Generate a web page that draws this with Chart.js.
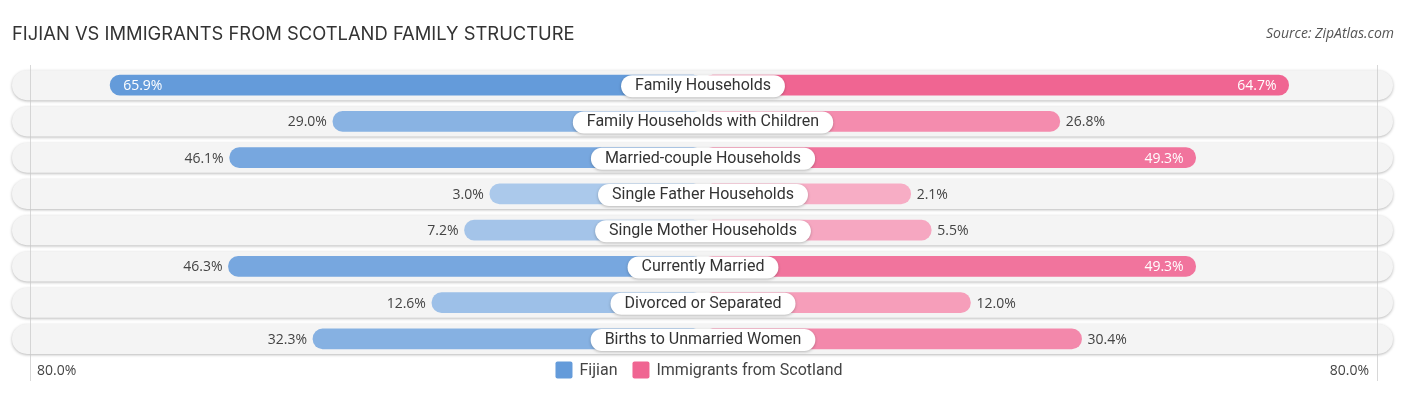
<!DOCTYPE html>
<html>
<head>
<meta charset="utf-8">
<script src="https://cdn.jsdelivr.net/npm/chart.js@4"></script>
<style>
html,body{margin:0;padding:0;background:#fff;}
#wrap{width:1406px;height:395px;}
</style>
</head>
<body>
<div id="wrap"><canvas id="c" width="1406" height="395"></canvas></div>
<script>
const titleText = 'FIJIAN VS IMMIGRANTS FROM SCOTLAND FAMILY STRUCTURE';
const sourceText = 'Source: ZipAtlas.com';
const categories = ['Family Households','Family Households with Children','Married-couple Households','Single Father Households','Single Mother Households','Currently Married','Divorced or Separated','Births to Unmarried Women'];
const fijian = [65.9, 29.0, 46.1, 3.0, 7.2, 46.3, 12.6, 32.3];
const scotland = [64.7, 26.8, 49.3, 2.1, 5.5, 49.3, 12.0, 30.4];
const seriesNames = ['Fijian','Immigrants from Scotland'];
const axisMax = 80;
const axisTickLabels = ['80.0%','80.0%'];

const OFF = 32.3; // hidden stub under the centre label (in value units)
const BLUE = [100,155,218];
const PINK = [240,101,146];
function shade(base, v, max){
  const t = 0.5 + 0.5*Math.pow(v/max, 0.8);
  const c = base.map(b => Math.round(255*(1-t) + b*t));
  return `rgb(${c[0]},${c[1]},${c[2]})`;
}
const fMax = Math.max(...fijian), sMax = Math.max(...scotland);
const fColors = fijian.map(v => shade(BLUE, v, fMax));
const sColors = scotland.map(v => shade(PINK, v, sMax));
const fmt = v => v.toFixed(1) + '%';

function rr(ctx,x,y,w,h,r){
  ctx.beginPath();
  ctx.moveTo(x+r,y);
  ctx.lineTo(x+w-r,y);
  ctx.arc(x+w-r,y+r,r,-Math.PI/2,0);
  ctx.lineTo(x+w,y+h-r);
  ctx.arc(x+w-r,y+h-r,r,0,Math.PI/2);
  ctx.lineTo(x+r,y+h);
  ctx.arc(x+r,y+h-r,r,Math.PI/2,Math.PI);
  ctx.lineTo(x,y+r);
  ctx.arc(x+r,y+r,r,Math.PI,Math.PI*1.5);
  ctx.closePath();
}

const decor = {
  id:'decor',
  beforeDatasetsDraw(chart){
    const ctx = chart.ctx, ca = chart.chartArea, ys = chart.scales.y;
    ctx.save();
    categories.forEach((c,i)=>{
      const yc = ys.getPixelForValue(i);
      const x0 = ca.left - 13, x1 = ca.right + 12, h = 30;
      ctx.save();
      ctx.shadowColor = 'rgba(0,0,0,0.28)';
      ctx.shadowBlur = 3;
      ctx.shadowOffsetY = 1;
      rr(ctx, x0, yc - h/2, x1 - x0, h, h/2);
      ctx.fillStyle = '#f4f4f4';
      ctx.fill();
      ctx.restore();
    });
    // faint boundary lines near +-80%
    ctx.strokeStyle = 'rgba(200,200,200,0.7)';
    ctx.lineWidth = 1;
    [ca.left + 5, ca.right - 4].forEach(x=>{
      ctx.beginPath();
      ctx.moveTo(Math.round(x)+0.5, ca.top - 2);
      ctx.lineTo(Math.round(x)+0.5, 381);
      ctx.stroke();
    });
    ctx.restore();
  },
  afterDatasetsDraw(chart){
    const ctx = chart.ctx, ys = chart.scales.y, xs = chart.scales.x;
    const cx = xs.getPixelForValue(0);
    ctx.save();
    // value labels
    ctx.font = '14px "Open Sans"';
    ctx.textBaseline = 'middle';
    [[0,fijian],[1,scotland]].forEach(([di,vals])=>{
      const meta = chart.getDatasetMeta(di);
      meta.data.forEach((bar,i)=>{
        const v = vals[i];
        const inside = v >= 48;
        const y = bar.y + 1;
        if (di === 0){
          if (inside){ ctx.fillStyle = '#fff'; ctx.textAlign = 'left'; ctx.fillText(fmt(v), bar.x + 13, y); }
          else { ctx.fillStyle = '#444'; ctx.textAlign = 'right'; ctx.fillText(fmt(v), bar.x - 6, y); }
        } else {
          if (inside){ ctx.fillStyle = '#fff'; ctx.textAlign = 'right'; ctx.fillText(fmt(v), bar.x - 12, y); }
          else { ctx.fillStyle = '#444'; ctx.textAlign = 'left'; ctx.fillText(fmt(v), bar.x + 6, y); }
        }
      });
    });
    // centre labels
    ctx.font = '16px Roboto';
    categories.forEach((c,i)=>{
      const yc = ys.getPixelForValue(i) + 1;
      const w = ctx.measureText(c).width + 28, h = 22;
      ctx.save();
      ctx.shadowColor = 'rgba(0,0,0,0.25)';
      ctx.shadowBlur = 3;
      ctx.shadowOffsetY = 1;
      rr(ctx, cx - w/2, yc - h/2, w, h, h/2);
      ctx.fillStyle = '#fff';
      ctx.fill();
      ctx.restore();
      ctx.fillStyle = '#333';
      ctx.textAlign = 'center';
      ctx.textBaseline = 'middle';
      ctx.fillText(c, cx, yc);
    });
    ctx.restore();
  },
  afterDraw(chart){
    const ctx = chart.ctx, ca = chart.chartArea;
    ctx.save();
    // title
    ctx.fillStyle = '#333';
    ctx.textBaseline = 'middle';
    ctx.textAlign = 'left';
    let fs = 18;
    ctx.font = fs + 'px Inter';
    const tw = ctx.measureText(titleText).width;
    fs = fs * 563 / tw;
    ctx.font = fs.toFixed(2) + 'px Inter';
    ctx.fillText(titleText, 12, 34);
    // source
    ctx.font = 'italic 14px "Open Sans"';
    ctx.fillStyle = '#555';
    ctx.textAlign = 'right';
    ctx.fillText(sourceText, 1394, 34);
    // axis end labels
    ctx.font = '14px "Open Sans"';
    ctx.fillStyle = '#444';
    ctx.textAlign = 'left';
    ctx.fillText(axisTickLabels[0], ca.left + 12, 371);
    ctx.textAlign = 'right';
    ctx.fillText(axisTickLabels[1], ca.right - 12, 371);
    // legend
    ctx.font = '16px Roboto';
    const items = [[seriesNames[0], shade(BLUE,1,1)],[seriesNames[1], shade(PINK,1,1)]];
    const box = 17, gap1 = 7, gap2 = 15;
    let total = 0;
    items.forEach(([t],k)=>{ total += box + gap1 + ctx.measureText(t).width + (k<items.length-1?gap2:0); });
    let x = (ca.left + ca.right)/2 - 4 - total/2;
    const ly = 370;
    items.forEach(([t,col])=>{
      ctx.fillStyle = col;
      rr(ctx, x, ly - box/2, box, box, 2);
      ctx.fill();
      x += box + gap1;
      ctx.fillStyle = '#444';
      ctx.textAlign = 'left';
      ctx.fillText(t, x, ly + 1);
      x += ctx.measureText(t).width + gap2;
    });
    ctx.restore();
  }
};

new Chart(document.getElementById('c'), {
  type: 'bar',
  data: {
    labels: categories,
    datasets: [
      { label: seriesNames[0], data: fijian.map(v => -(v + OFF)), backgroundColor: fColors, barThickness: 20, borderRadius: 10, borderSkipped: false },
      { label: seriesNames[1], data: scotland.map(v => v + OFF), backgroundColor: sColors, barThickness: 20, borderRadius: 10, borderSkipped: false }
    ]
  },
  options: {
    indexAxis: 'y',
    responsive: false,
    animation: false,
    layout: { padding: { top: 67, bottom: 38, left: 25, right: 25 } },
    scales: {
      x: { display: false, stacked: true, min: -(axisMax + OFF), max: axisMax + OFF },
      y: { display: false, stacked: true }
    },
    plugins: { legend: { display: false }, title: { display: false }, tooltip: { enabled: false } }
  },
  plugins: [decor]
});
</script>
</body>
</html>
